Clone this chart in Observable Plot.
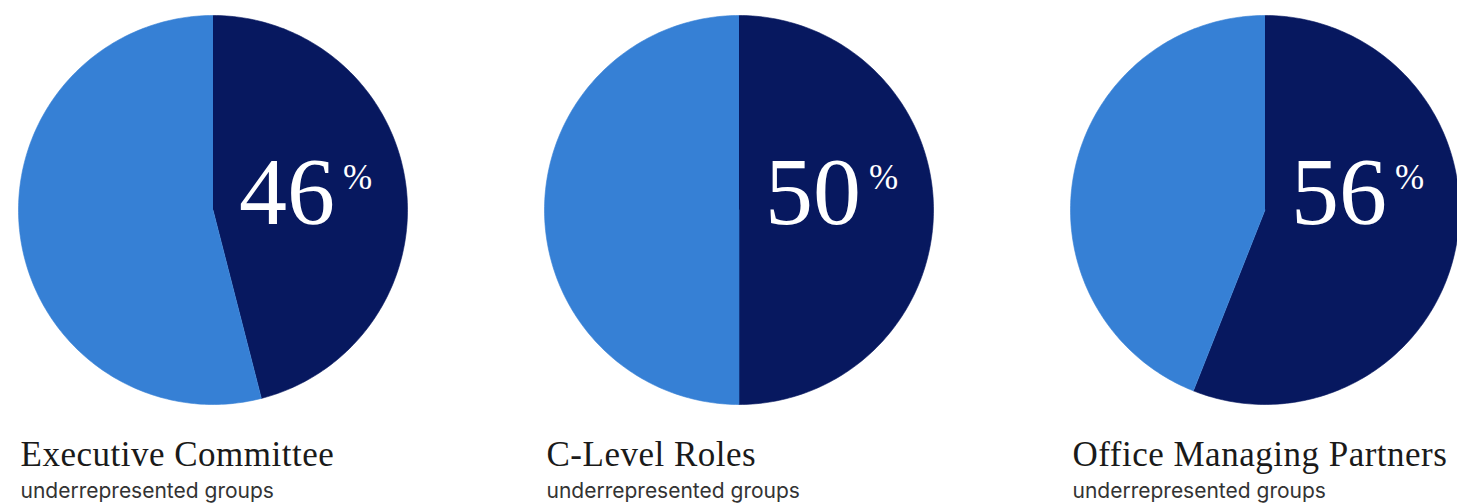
<!DOCTYPE html>
<html><head><meta charset="utf-8">
<script src="https://cdn.jsdelivr.net/npm/d3@7"></script>
<script src="https://cdn.jsdelivr.net/npm/@observablehq/plot@0.6"></script>
<style>
body{margin:0;background:#fff;overflow:hidden}
</style>
</head><body><div id="chart"></div>
<script>
const categories = ["Executive Committee", "C-Level Roles", "Office Managing Partners"];
const values = [46, 50, 56];
const subtitles = ["underrepresented groups", "underrepresented groups", "underrepresented groups"];
const parts = ["under", "rest"];
const partColors = ["#07185f", "#3680d5"];

// slice outlines in unit-circle coordinates, built from each value
const slices = [];
categories.forEach((c, i) => {
  const f = values[i] / 100;
  [[parts[0], 0, f], [parts[1], f, 1]].forEach(([k, a0, a1]) => {
    const n = Math.max(2, Math.ceil((a1 - a0) * 360));
    slices.push({cat: c, part: k, x: 0, y: 0});
    for (let j = 0; j <= n; j++) {
      const t = 2 * Math.PI * (a0 + (a1 - a0) * j / n);
      slices.push({cat: c, part: k, x: Math.sin(t), y: Math.cos(t)});
    }
  });
});
const labels = categories.map((c, i) => ({cat: c, value: values[i], sub: subtitles[i]}));

const chart = Plot.plot({
  width: 1457,
  height: 504,
  marginLeft: 17,
  marginRight: -3,
  marginTop: 15,
  marginBottom: 100,
  fx: {domain: categories, padding: 0.2605, axis: null},
  x: {domain: [-1, 1], axis: null},
  y: {domain: [-1, 1], axis: null},
  color: {domain: parts, range: partColors},
  marks: [
    Plot.line(slices, {fx: "cat", x: "x", y: "y", z: d => d.part, fill: "part", stroke: "part", strokeWidth: 0.6, curve: "linear"}),
    Plot.text(labels, {fx: "cat", x: 0, y: 0, text: d => String(d.value), textAnchor: "start", lineAnchor: "bottom",
      dx: 26, dy: 13.5, fontSize: 96, fontFamily: "Liberation Serif", fill: "white"}),
    Plot.text(labels, {fx: "cat", x: 0, y: 0, text: () => "%", textAnchor: "start", lineAnchor: "bottom",
      dx: 130, dy: -21, fontSize: 35, fontFamily: "Liberation Serif", fill: "white"}),
    Plot.text(labels, {fx: "cat", x: -1, y: -1, text: "cat", textAnchor: "start", lineAnchor: "bottom",
      dx: 2, dy: 61, fontSize: 35, fontFamily: "Liberation Serif", fill: "#1a1a1a"}),
    Plot.text(labels, {fx: "cat", x: -1, y: -1, text: "sub", textAnchor: "start", lineAnchor: "bottom",
      dx: 2, dy: 93, fontSize: 21, fontFamily: "Inter", fill: "#333333"})
  ]
});
chart.querySelectorAll("text").forEach(t => {
  if (categories.includes(t.textContent)) t.style.letterSpacing = "0.5px";
});
document.getElementById("chart").appendChild(chart);
</script>
</body></html>
